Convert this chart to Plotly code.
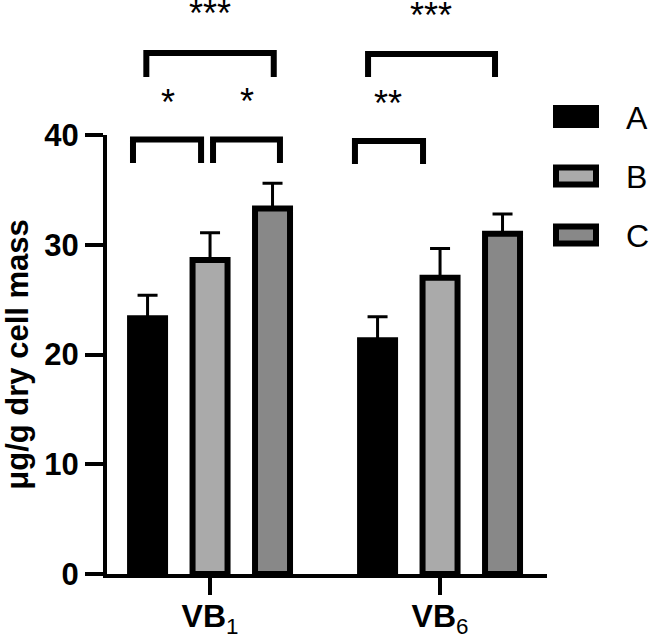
import plotly.graph_objects as go

# ---- data ----
categories = ["VB1", "VB6"]
tick_labels = ["<b>VB</b><sub>1</sub>", "<b>VB</b><sub>6</sub>"]
series_names = ["A", "B", "C"]
values_A = [23.3, 21.3]
values_B = [28.6, 27.0]
values_C = [33.3, 31.0]
err_A = [2.1, 2.15]
err_B = [2.5, 2.65]
err_C = [2.3, 1.8]
colors = ["#000000", "#AAAAAA", "#888888"]

# significance brackets: (x_left, x_right, y_top_paper, y_bottom_paper)
brackets = [
    (-0.335, -0.039, 0.9897, 0.9362),
    (0.013, 0.304, 0.9897, 0.9362),
    (-0.277, 0.277, 1.1868, 1.1321),
    (0.630, 0.926, 0.9863, 0.9339),
    (0.687, 1.239, 1.1845, 1.1321),
]
# star labels: (text, x, y_paper)
stars = [
    ("*", -0.183, 1.074),
    ("*", 0.161, 1.076),
    ("***", 0.0, 1.276),
    ("**", 0.774, 1.072),
    ("***", 0.961, 1.272),
]

FONT = "Liberation Sans, Arial, sans-serif"
xpos = list(range(len(categories)))

fig = go.Figure()
for name, vals, errs, col in zip(series_names, [values_A, values_B, values_C],
                                 [err_A, err_B, err_C], colors):
    fig.add_trace(go.Bar(
        x=xpos, y=vals, name=name,
        marker=dict(color=col, line=dict(color="black", width=6)),
        error_y=dict(type="data", array=errs, arrayminus=[0] * len(errs),
                     symmetric=False, color="black", thickness=3, width=10),
        showlegend=False,
    ))

shapes = []
for x0, x1, yt, yb in brackets:
    shapes.append(dict(
        type="path", xref="x", yref="paper",
        path=f"M {x0},{yb} L {x0},{yt} L {x1},{yt} L {x1},{yb}",
        line=dict(color="black", width=6),
    ))

annotations = []
for txt, x, y in stars:
    annotations.append(dict(
        text=txt, x=x, y=y, xref="x", yref="paper", showarrow=False,
        xanchor="center", yanchor="middle",
        font=dict(family=FONT, size=36, color="black"),
    ))

# custom legend (wide swatches); coordinates given in screen pixels
def px2paper_x(px):
    return (px - 107) / 440

def px2paper_y(py):
    return (574 - py) / 439

legend_rows = [(116.5, 0), (176, 1), (235, 2)]
for cy, i in legend_rows:
    shapes.append(dict(
        type="rect", xref="paper", yref="paper",
        x0=px2paper_x(556), x1=px2paper_x(596),
        y0=px2paper_y(cy - 8.5), y1=px2paper_y(cy + 8.5),
        fillcolor=colors[i], line=dict(color="black", width=6),
    ))
    annotations.append(dict(
        text=series_names[i], x=px2paper_x(624), y=px2paper_y(cy + 1),
        xref="paper", yref="paper", showarrow=False,
        xanchor="left", yanchor="middle",
        font=dict(family=FONT, size=32, color="black"),
    ))

fig.update_layout(
    width=650, height=637,
    margin=dict(l=107, r=103, t=135, b=63, autoexpand=False),
    plot_bgcolor="white", paper_bgcolor="white",
    barmode="group", bargap=0.185, bargroupgap=0.44,
    shapes=shapes, annotations=annotations,
    font=dict(family=FONT, color="black"),
    xaxis=dict(
        range=[-0.448, 1.465], tickvals=xpos, ticktext=tick_labels,
        showline=True, linecolor="black", linewidth=4,
        ticks="outside", ticklen=17, tickwidth=4, tickcolor="black",
        showgrid=False, zeroline=False, automargin=False,
        ticklabelstandoff=-6,
        tickfont=dict(family=FONT, size=32, color="black"),
    ),
    yaxis=dict(
        range=[0, 40], tickvals=[0, 10, 20, 30, 40],
        ticktext=["<b>0</b>", "<b>10</b>", "<b>20</b>", "<b>30</b>", "<b>40</b>"],
        showline=True, linecolor="black", linewidth=4,
        ticks="outside", ticklen=18, tickwidth=4, tickcolor="black",
        showgrid=False, zeroline=False, automargin=False,
        ticklabelstandoff=0,
        tickfont=dict(family=FONT, size=31, color="black"),
        title=dict(text="<b>μg/g dry cell mass</b>", standoff=15,
                   font=dict(family=FONT, size=31, color="black")),
    ),
)

# remove the browser's default 8px body margin so the figure fills the window
fig.write_html("out.html", config={"displayModeBar": False},
               post_script="document.body.style.margin='0';")
